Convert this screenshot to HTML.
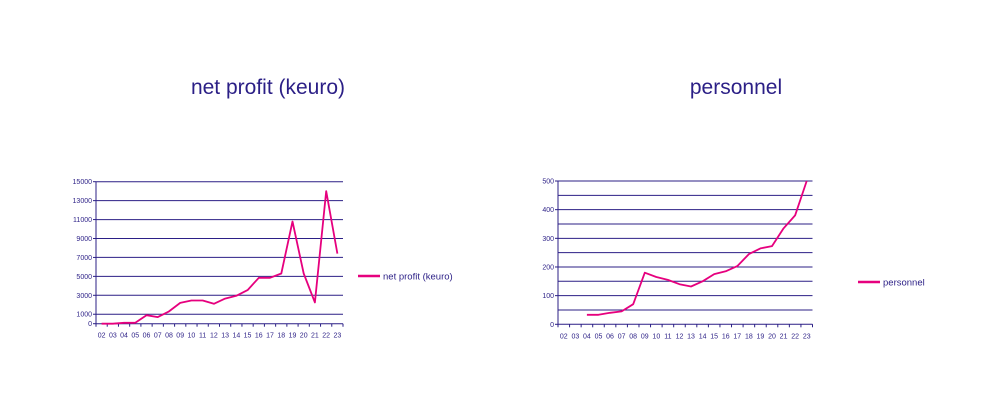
<!DOCTYPE html>
<html><head><meta charset="utf-8"><style>
html,body{margin:0;padding:0;background:#fff;width:1000px;height:400px;overflow:hidden}
svg{display:block;font-family:"Liberation Sans",sans-serif}
</style></head><body>
<svg id="s" width="1000" height="400">
<text x="268" y="94" text-anchor="middle" font-size="21" fill="#2b1f86">net profit (keuro)</text>
<text x="736" y="94" text-anchor="middle" font-size="21" fill="#2b1f86">personnel</text>
<g>
<line x1="358" y1="276" x2="380" y2="276" stroke="#e6007e" stroke-width="2.5"/>
<text x="383" y="279.5" font-size="9.5" fill="#2b1f86">net profit (keuro)</text>
</g>
<g>
<line x1="858" y1="282" x2="880" y2="282" stroke="#e6007e" stroke-width="2.5"/>
<text x="883" y="285.5" font-size="9.5" fill="#2b1f86">personnel</text>
</g>
</svg>
<script>
const categories=["02","03","04","05","06","07","08","09","10","11","12","13","14","15","16","17","18","19","20","21","22","23"];
const profitValues=[0,0,100,100,900,700,1300,2200,2450,2450,2100,2650,2950,3550,4850,4850,5300,10800,5300,2250,14000,7400];
const profitTicks=[0,1000,3000,5000,7000,9000,11000,13000,15000];
const personnelValues=[null,null,33,33,40,45,70,180,165,155,140,132,150,175,185,203,245,265,273,335,380,500];
const personnelTicks=[0,100,200,300,400,500];
const personnelGrid=[50,100,150,200,250,300,350,400,450,500];
const NS="http://www.w3.org/2000/svg";
const svg=document.getElementById('s');
function mk(tag,attrs,parent){const e=document.createElementNS(NS,tag);for(const k in attrs)e.setAttribute(k,attrs[k]);parent.appendChild(e);return e;}
function chart(name,x0,x1,yTop,yBot,max,values,ticks,grid){
  const g=mk('g',{},svg);
  
  
  const n=categories.length,bw=(x1-x0)/n;
  const xs=i=>x0+bw*(i+0.5);
  const ys=v=>yBot-(yBot-yTop)*v/max;
  grid.forEach(v=>{const l=mk('line',{x1:x0,x2:x1,y1:ys(v),y2:ys(v),stroke:'#2b1f86','stroke-width':1},g);
    
    });
  const ax=mk('line',{x1:x0,x2:x1,y1:yBot,y2:yBot,stroke:'#2b1f86','stroke-width':1},g);
  
  
  const ay=mk('line',{x1:x0,x2:x0,y1:yTop,y2:yBot,stroke:'#2b1f86','stroke-width':1},g);
  
  
  ticks.forEach(v=>{mk('line',{x1:x0-3,x2:x0,y1:ys(v),y2:ys(v),stroke:'#2b1f86'},g);
    const t=mk('text',{x:x0-4,y:ys(v)+2.5,'text-anchor':'end','font-size':7,fill:'#2b1f86'},g);
    t.textContent=v;
    
    });
  for(let i=0;i<=n;i++)mk('line',{x1:x0+bw*i,x2:x0+bw*i,y1:yBot,y2:yBot+3,stroke:'#2b1f86'},g);
  categories.forEach((c,i)=>{const t=mk('text',{x:xs(i),y:yBot+14,'text-anchor':'middle','font-size':7,fill:'#2b1f86'},g);
    t.textContent=c;
    
    });
  let d='';values.forEach((v,i)=>{if(v==null)return;d+=(d?'L':'M')+xs(i).toFixed(1)+','+ys(v).toFixed(1);});
  const p=mk('path',{d:d,fill:'none',stroke:'#e6007e','stroke-width':1.8,'stroke-linejoin':'round'},g);
  
  
}
chart('net-profit',96,343,181.7,323.7,15000,profitValues,profitTicks,profitTicks.slice(1));
chart('personnel',558,812.5,181,324.3,500,personnelValues,personnelTicks,personnelGrid);
</script>
</body></html>
